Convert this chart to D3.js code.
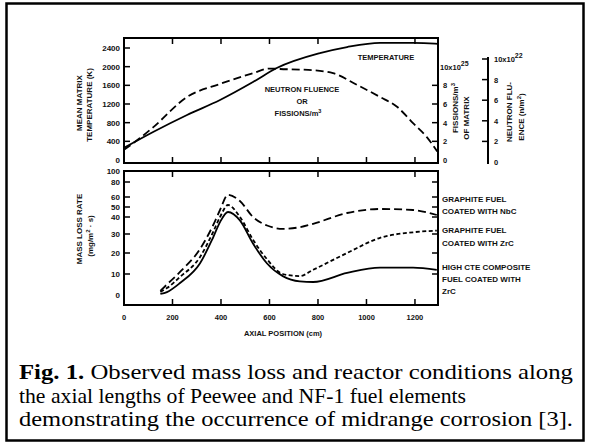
<!DOCTYPE html>
<html>
<head>
<meta charset="utf-8">
<script src="https://cdn.jsdelivr.net/npm/d3@7"></script>
<style>
    body { margin: 0; background: #fff; }
    svg text { font-family: "Liberation Sans", Arial, sans-serif; font-weight: bold; fill: #111; }
    .caption text { font-family: "Liberation Serif", "Times New Roman", serif; font-weight: normal; fill: #000; }
</style>
</head>
<body>
<svg id="chart" width="590" height="447"></svg>
<script>
// axial position (cm) where curves were read
const tempPos = [0, 120, 260, 396, 532, 630, 808, 920, 1056, 1192, 1282, 1295];
const temperature = [260, 600, 965, 1285, 1670, 1970, 2290, 2420, 2510, 2510, 2495, 2490];

const fluencePos = [0, 66, 120, 260, 396, 532, 600, 643, 760, 862, 961, 1056, 1126, 1192, 1249, 1292];
const fissions = [1.1, 2.35, 3.5, 6.75, 8.15, 9.3, 9.8, 9.75, 9.65, 9.3, 8.05, 6.75, 5.7, 3.95, 2.45, 0.9]; // x10^25 /m3

const massPos = [150, 177, 231, 313, 367, 396, 429, 478, 532, 590, 655, 725, 780, 920, 1056, 1192, 1290];
const nbcGraphite = [2, 5, 11, 22, 35, 47, 63, 56, 40, 35, 33, 34, 36, 44, 48, 47, 42];
const zrcGraphite = [1.5, 3.3, 8.6, 18, 31, 40, 52, 40, 27, 17, 10, 9, 12, 20, 28, 31, 32];
const zrcComposite = [0.5, 1.4, 5.7, 15, 28, 37, 45, 38, 25, 15, 9, 6.5, 6.2, 10.5, 13, 13, 12];

const xTicks = [0, 200, 400, 600, 800, 1000, 1200];
const xTickLabels = ['0', '200', '400', '600', '800', '1000', '1200'];
const tempTicks = [0, 400, 800, 1200, 1600, 2000, 2400];
const fissionTicks = [0, 2, 4, 6, 8, 10];
const fluenceTicks = [0, 2, 4, 6, 8, 10];
const massTicks = [0, 10, 20, 30, 40, 50, 60, 80, 100];

const captionLines = [
    'Observed mass loss and reactor conditions along',
    'the axial lengths of Peewee and NF-1 fuel elements',
    'demonstrating the occurrence of midrange corrosion [3].'
];

const svg = d3.select('#chart');

// outer frame
svg.append('rect')
    .attr('x', 6.5).attr('y', 3.5)
    .attr('width', 577).attr('height', 437)
    .attr('fill', 'none').attr('stroke', '#000').attr('stroke-width', 2.5);

const x = d3.scaleLinear().domain([0, 1295]).range([124, 438]);

const topPanel = {y0: 38, y1: 163};
const botPanel = {y0: 171, y1: 305};

const yTemp = d3.scaleLinear().domain([0, 2400]).range([160, 48]);
const yFiss = d3.scaleLinear().domain([0, 12]).range([160, 48]);
const yFlu = d3.scaleLinear().domain([0, 10]).range([162, 59]);
// the original mass loss axis is stretched unevenly, so follow its tick spacing
const yMass = d3.scaleLinear()
    .domain(massTicks)
    .range([295, 274, 253, 234, 217, 207, 197, 182, 171]);

function box(p) {
    svg.append('rect')
        .attr('x', x.range()[0]).attr('y', p.y0)
        .attr('width', x.range()[1] - x.range()[0]).attr('height', p.y1 - p.y0)
        .attr('fill', 'none').attr('stroke', '#000').attr('stroke-width', 2);
}
box(topPanel);
box(botPanel);

function xTickMarks(p, topVals, botVals) {
    const g = svg.append('g').attr('stroke', '#000').attr('stroke-width', 1.5);
    topVals.forEach(v => g.append('line')
        .attr('x1', x(v)).attr('x2', x(v)).attr('y1', p.y0).attr('y2', p.y0 + 6));
    botVals.forEach(v => g.append('line')
        .attr('x1', x(v)).attr('x2', x(v)).attr('y1', p.y1).attr('y2', p.y1 - 6));
}
xTickMarks(topPanel, [200, 400, 600, 800, 1200], [200, 400, 600, 800, 1000, 1200]);
xTickMarks(botPanel, [200, 600, 800, 1200], [200, 400, 600, 800, 1000, 1200]);

function yTickMarks(scale, vals, xPos, dir) {
    const g = svg.append('g').attr('stroke', '#000').attr('stroke-width', 1.5);
    vals.forEach(v => g.append('line')
        .attr('x1', xPos).attr('x2', xPos + dir * 6)
        .attr('y1', scale(v)).attr('y2', scale(v)));
}
const xl = x.range()[0], xr = x.range()[1];

// left temperature axis
yTickMarks(yTemp, tempTicks.slice(1), xl, 1);
svg.append('g').selectAll('text').data(tempTicks).join('text')
    .attr('x', xl - 4).attr('y', d => yTemp(d) + 3)
    .attr('text-anchor', 'end').attr('font-size', 8)
    .text(d => d);

// right fissions axis
yTickMarks(yFiss, fissionTicks.slice(1, 5), xr, -1);
const fissLab = svg.append('g').selectAll('text').data(fissionTicks).join('text')
    .attr('x', d => d === 10 ? xr + 2 : xr + 5).attr('y', d => yFiss(d) + 3)
    .attr('font-size', 7.5);
fissLab.text(d => d === 10 ? '10x10' : d);
fissLab.filter(d => d === 10).append('tspan')
    .attr('dy', -4).attr('font-size', 7).text('25');

// separate neutron fluence axis
const fluX = 488;
svg.append('line')
    .attr('x1', fluX).attr('x2', fluX).attr('y1', 57).attr('y2', 164)
    .attr('stroke', '#000').attr('stroke-width', 2);
yTickMarks(yFlu, fluenceTicks.slice(1), fluX, -1);
const fluLab = svg.append('g').selectAll('text').data(fluenceTicks).join('text')
    .attr('x', fluX + 6).attr('y', d => yFlu(d) + 3)
    .attr('font-size', 7.5);
fluLab.text(d => d === 10 ? '10x10' : d);
fluLab.filter(d => d === 10).append('tspan')
    .attr('dy', -4).attr('font-size', 7).text('22');

// mass loss axis, ticks mirrored on the right
yTickMarks(yMass, massTicks.slice(1), xl, 1);
yTickMarks(yMass, massTicks.slice(1), xr, -1);
svg.append('g').selectAll('text').data(massTicks).join('text')
    .attr('x', xl - 4).attr('y', d => yMass(d) + 3)
    .attr('text-anchor', 'end').attr('font-size', 8)
    .text(d => d);

// x axis labels
svg.append('g').selectAll('text').data(xTicks).join('text')
    .attr('x', d => x(d)).attr('y', 320)
    .attr('text-anchor', 'middle').attr('font-size', 7.5)
    .text((d, i) => xTickLabels[i]);
svg.append('text')
    .attr('x', 283).attr('y', 336)
    .attr('text-anchor', 'middle').attr('font-size', 7.5)
    .text('AXIAL POSITION (cm)');

// rotated axis titles
function vTitle(cx, cy, txt, size) {
    return svg.append('text')
        .attr('transform', 'translate(' + cx + ',' + cy + ') rotate(-90)')
        .attr('text-anchor', 'middle').attr('font-size', size || 8)
        .text(txt);
}
vTitle(82, 103, 'MEAN MATRIX');
vTitle(92, 105, 'TEMPERATURE (K)');
vTitle(458, 108, 'FISSIONS/m').append('tspan').attr('dy', -3).attr('font-size', 6).text('3');
vTitle(469, 118, 'OF MATRIX');
vTitle(512, 112, 'NEUTRON FLU-');
vTitle(524, 117, 'ENCE (n/m').call(t => {
    t.append('tspan').attr('dy', -3).attr('font-size', 6).text('2');
    t.append('tspan').attr('dy', 3).text(')');
});
vTitle(82, 229, 'MASS LOSS RATE');
vTitle(93, 236, '(mg/m').call(t => {
    t.append('tspan').attr('dy', -3).attr('font-size', 6).text('2');
    t.append('tspan').attr('dy', 3).text(' · s)');
});

// curves
function curve(pos, vals, scale, dash) {
    const line = d3.line()
        .x((d, i) => x(pos[i]))
        .y(d => scale(d))
        .curve(d3.curveMonotoneX);
    svg.append('path')
        .datum(vals)
        .attr('d', line)
        .attr('fill', 'none').attr('stroke', '#000').attr('stroke-width', 1.8)
        .attr('stroke-dasharray', dash || null);
}
curve(tempPos, temperature, yTemp);
curve(fluencePos, fissions, yFiss, '8,4');
curve(massPos, nbcGraphite, yMass, '8,4');
curve(massPos, zrcGraphite, yMass, '4,2.5');
curve(massPos, zrcComposite, yMass);

// in-plot labels
function label(lines, lx, ly, anchor, size, gap) {
    const t = svg.append('text').attr('font-size', size).attr('text-anchor', anchor);
    lines.forEach((l, i) => t.append('tspan').attr('x', lx).attr('y', ly + i * gap).text(l));
    return t;
}
label(['TEMPERATURE'], 386, 60, 'middle', 7.5, 0);
label(['NEUTRON FLUENCE', 'OR'], 302, 92, 'middle', 7.5, 12);
label(['FISSIONS/m'], 298, 116, 'middle', 7.5, 0)
    .append('tspan').attr('dy', -3).attr('font-size', 5.5).text('3');
label(['GRAPHITE FUEL', 'COATED WITH NbC'], 442, 202, 'start', 8, 12);
label(['GRAPHITE FUEL', 'COATED WITH ZrC'], 442, 233, 'start', 8, 12.5);
label(['HIGH CTE COMPOSITE', 'FUEL COATED WITH', 'ZrC'], 442, 270, 'start', 8, 12);

// caption, stretched to the widths the lines take in the original
const cap = svg.append('g').attr('class', 'caption');
const capSize = 22;
const capWidths = [554, 447, 554];
const line1 = cap.append('text').attr('x', 19).attr('y', 379).attr('font-size', capSize)
    .attr('textLength', capWidths[0]).attr('lengthAdjust', 'spacingAndGlyphs');
line1.append('tspan').attr('font-weight', 'bold').text('Fig. 1.');
line1.append('tspan').text(' ' + captionLines[0]);
cap.append('text').attr('x', 19).attr('y', 403).attr('font-size', capSize)
    .attr('textLength', capWidths[1]).attr('lengthAdjust', 'spacingAndGlyphs')
    .text(captionLines[1]);
cap.append('text').attr('x', 19).attr('y', 426).attr('font-size', capSize)
    .attr('textLength', capWidths[2]).attr('lengthAdjust', 'spacingAndGlyphs')
    .text(captionLines[2]);
</script>
</body>
</html>
